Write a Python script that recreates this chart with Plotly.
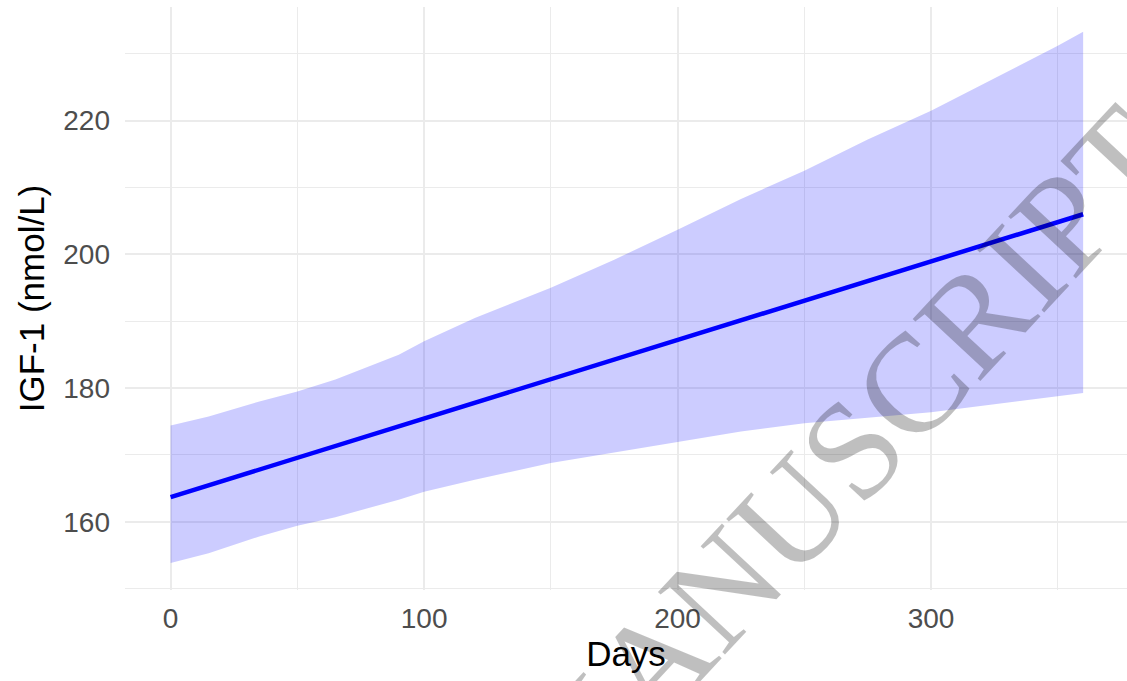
import plotly.graph_objects as go

# Data
days_band = [0, 15, 35, 50, 65, 90, 100, 120, 150, 175, 200, 225, 250, 275, 300, 325, 350, 360]
upper = [174.4, 175.75, 178.0, 179.5, 181.3, 185.0, 187.0, 190.5, 195.0, 199.2, 203.7, 208.3, 212.5, 217.2, 221.5, 226.3, 231.2, 233.3]
lower = [153.85, 155.3, 157.8, 159.4, 160.7, 163.3, 164.5, 166.3, 168.8, 170.4, 172.0, 173.5, 174.75, 175.6, 176.4, 177.6, 178.8, 179.25]
days_line = [0, 360]
igf_line = [163.7, 206.0]

x_ticks = [0, 100, 200, 300]
y_ticks = [160, 180, 200, 220]

W, H = 1127, 681
L, R, T, B = 125, 0, 7, 91

fig = go.Figure()
fig.add_trace(go.Scatter(x=days_band, y=lower, mode="lines", line=dict(width=0),
                         hoverinfo="skip", showlegend=False))
fig.add_trace(go.Scatter(x=days_band, y=upper, mode="lines", line=dict(width=0),
                         fill="tonexty", fillcolor="rgba(0,0,255,0.2)",
                         hoverinfo="skip", showlegend=False))
fig.add_trace(go.Scatter(x=days_line, y=igf_line, mode="lines",
                         line=dict(color="#0000ff", width=4.5), showlegend=False))

tick_font = dict(family="Liberation Sans, Arial, sans-serif", size=28, color="#4d4d4d")
title_font = dict(family="Liberation Sans, Arial, sans-serif", size=35, color="#000000")

fig.update_layout(
    width=W, height=H,
    margin=dict(l=L, r=R, t=T, b=B, autoexpand=False),
    paper_bgcolor="white", plot_bgcolor="white",
    showlegend=False,
    xaxis=dict(
        range=[-18, 377.3], tickvals=x_ticks, ticktext=[str(v) for v in x_ticks],
        showgrid=True, gridcolor="#ebebeb", gridwidth=2,
        minor=dict(dtick=50, tick0=0, showgrid=True, gridcolor="#ebebeb", gridwidth=1),
        zeroline=False, showline=False, ticks="", tickfont=tick_font,
        ticklabelstandoff=9,
        title=dict(text="Days", font=title_font, standoff=6),
        automargin=False,
    ),
    yaxis=dict(
        range=[149.8, 237.0], tickvals=y_ticks, ticktext=[str(v) for v in y_ticks],
        showgrid=True, gridcolor="#ebebeb", gridwidth=2,
        minor=dict(dtick=10, tick0=150, showgrid=True, gridcolor="#ebebeb", gridwidth=1),
        zeroline=False, showline=False, ticks="", tickfont=tick_font,
        ticklabelstandoff=14,
        title=dict(text="IGF-1 (nmol/L)", font=title_font, standoff=8),
        automargin=False,
    ),
)

# Diagonal watermark
pw, ph = W - L - R, H - T - B
cx, cy = 841, 460
fig.add_annotation(
    text="MANUSCRIPT", xref="paper", yref="paper",
    x=(cx - L) / pw, y=(H - B - cy) / ph, xanchor="center", yanchor="middle",
    showarrow=False, textangle=-47,
    font=dict(family="Liberation Serif, Times New Roman, serif", size=140,
              color="rgba(0,0,0,0.25)"),
)

fig.write_html(
    "out.html",
    config={"displayModeBar": False},
    post_script="document.body.style.margin='0';document.body.style.overflow='hidden';",
)
